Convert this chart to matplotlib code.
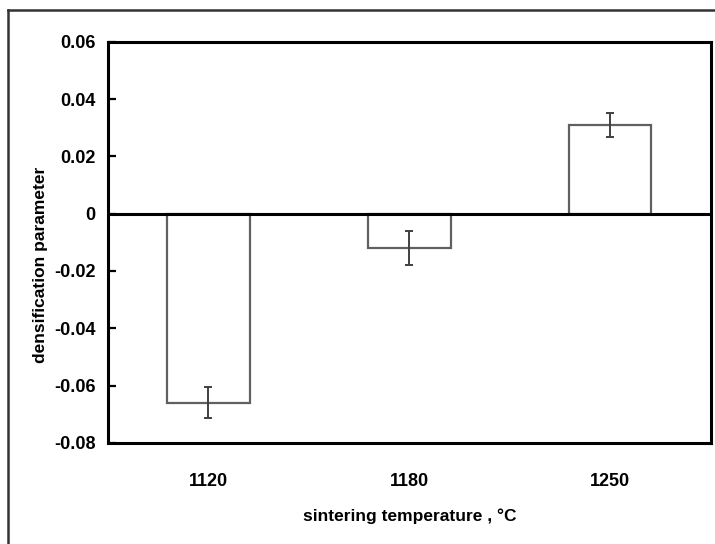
import matplotlib
matplotlib.use('Agg')
import matplotlib.pyplot as plt
from matplotlib.lines import Line2D

# data
temps = ['1120', '1180', '1250']
densification = [-0.066, -0.012, 0.031]
errors = [0.0055, 0.006, 0.0042]
yticks = [-0.08, -0.06, -0.04, -0.02, 0, 0.02, 0.04, 0.06]
ytick_labels = ['-0.08', '-0.06', '-0.04', '-0.02', '0', '0.02', '0.04', '0.06']

plt.rcParams['font.family'] = ['Liberation Sans', 'DejaVu Sans']

fig = plt.figure(figsize=(7.15, 5.44), dpi=100)
ax = fig.add_axes([0.151, 0.186, 0.843, 0.737])

x = range(len(temps))
ax.bar(x, densification, width=0.41, color='white', edgecolor='#606060', linewidth=1.6, zorder=2)
ax.errorbar(x, densification, yerr=errors, fmt='none', ecolor='#404040',
            elinewidth=1.4, capsize=3, capthick=1.4, zorder=3)
ax.axhline(0, color='black', linewidth=2.2, zorder=4)

ax.set_xlim(-0.5, 2.5)
ax.set_ylim(-0.08, 0.06)
ax.set_yticks(yticks)
ax.set_yticklabels(ytick_labels, fontsize=13, fontweight='bold')
ax.set_xticks(list(x))
ax.set_xticklabels(temps, fontsize=13, fontweight='bold')
ax.tick_params(axis='y', direction='in', length=6, width=1.6, pad=9)
ax.tick_params(axis='x', length=0, pad=22)
for s in ax.spines.values():
    s.set_linewidth(2.2)
    s.set_color('black')

ax.set_xlabel('sintering temperature , °C', fontsize=12.5, fontweight='bold', labelpad=13)
ax.set_ylabel('densification parameter', fontsize=12.5, fontweight='bold')
ax.yaxis.set_label_coords(-0.1, 0.445)

# outer frame of the original figure
fig.add_artist(Line2D([8 / 715, 8 / 715], [0, 1 - 10 / 544], transform=fig.transFigure, color='#333333', linewidth=1.8))
fig.add_artist(Line2D([8 / 715, 1], [1 - 10 / 544, 1 - 10 / 544], transform=fig.transFigure, color='#333333', linewidth=1.8))

fig.savefig('out.png', dpi=100)
